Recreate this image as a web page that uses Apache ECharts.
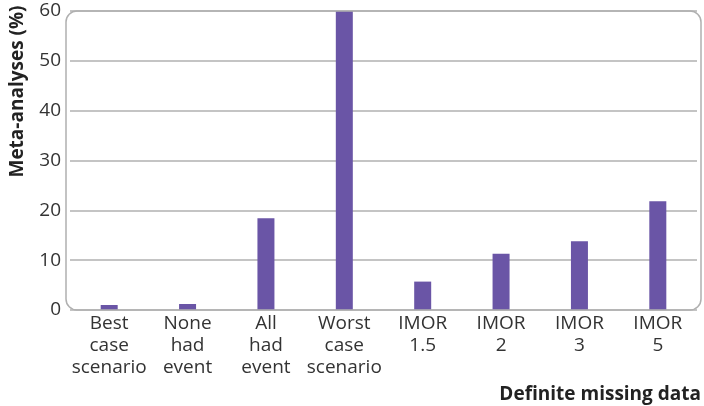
<!DOCTYPE html>
<html><head><meta charset="utf-8">
<script src="https://cdn.jsdelivr.net/npm/echarts@6/dist/echarts.min.js"></script>
<style>html,body{margin:0;padding:0;background:#fff}#c{width:704px;height:406px}</style>
</head><body><div id="c"></div>
<script>
const categories = ['Best\ncase\nscenario','None\nhad\nevent','All\nhad\nevent','Worst\ncase\nscenario','IMOR\n1.5','IMOR\n2','IMOR\n3','IMOR\n5'];
const values = [1.0, 1.2, 18.4, 60, 5.7, 11.3, 13.8, 21.8];
const yTicks = [0, 10, 20, 30, 40, 50, 60];

const FONT = 'Open Sans';
const chart = echarts.init(document.getElementById('c'));
const G = {left: 69, right: 5, top: 11, bottom: 96};
chart.setOption({
  animation: false,
  textStyle: {fontFamily: FONT},
  grid: G,
  xAxis: {
    type: 'category', data: categories,
    axisLine: {show: false}, axisTick: {show: false},
    axisLabel: {interval: 0, color: '#333', fontSize: 19, lineHeight: 22, margin: 3, fontFamily: FONT},
    name: 'Definite missing data', nameLocation: 'end',
    nameTextStyle: {fontWeight: 'bold', fontSize: 19, color: '#222', align: 'right', verticalAlign: 'top', padding: [75, 0, 0, 0], fontFamily: FONT},
    nameGap: 4
  },
  yAxis: {
    type: 'value', min: yTicks[0], max: yTicks[yTicks.length-1], interval: 10,
    axisLine: {show: false}, axisTick: {show: false},
    axisLabel: {color: '#333', fontSize: 19, margin: 9, fontFamily: FONT},
    splitLine: {lineStyle: {color: '#b0b0b0', width: 1.5}},
    name: 'Meta-analyses (%)', nameLocation: 'middle', nameGap: 43,
    nameTextStyle: {fontWeight: 'bold', fontSize: 19, color: '#222', fontFamily: FONT, padding: [0, 0, 0, 138]}
  },
  series: [{
    type: 'bar', data: values, barWidth: 17,
    itemStyle: {color: '#6a55a6'}
  }],
  graphic: [{
    type: 'rect', z: 10, silent: true,
    shape: {x: 66, y: G.top, width: 701 - 66, height: 406 - G.top - G.bottom, r: 11},
    style: {fill: 'none', stroke: '#b0b0b0', lineWidth: 1.5}
  }]
});
</script></body></html>
